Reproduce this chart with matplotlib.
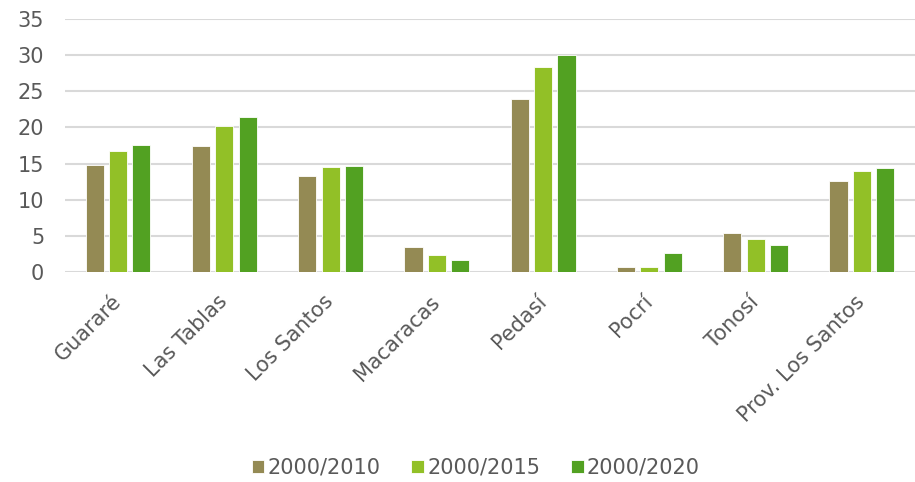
import numpy as np
import matplotlib.pyplot as plt
import matplotlib.transforms as mtransforms

# Datos
distritos = ['Guararé', 'Las Tablas', 'Los Santos', 'Macaracas', 'Pedasí',
             'Pocrí', 'Tonosí', 'Prov. Los Santos']
series = ['2000/2010', '2000/2015', '2000/2020']
v2010 = [14.8, 17.4, 13.3, 3.5, 24.0, 0.65, 5.35, 12.6]
v2015 = [16.7, 20.2, 14.5, 2.3, 28.4, 0.7, 4.5, 14.0]
v2020 = [17.5, 21.5, 14.7, 1.6, 30.0, 2.6, 3.7, 14.4]
colores = ['#948A54', '#92C027', '#52A122']

texto = '#595959'

fig = plt.figure(figsize=(9.15, 4.82), dpi=100)
ax = fig.add_axes([0.071, 0.4357, 0.929, 0.5249])

x = np.arange(len(distritos))
ancho = 0.17
paso = 0.22
for i, (vals, nombre) in enumerate(zip([v2010, v2015, v2020], series)):
    ax.bar(x + (i - 1) * paso, vals, ancho, color=colores[i], label=nombre,
           edgecolor='white', linewidth=0.6, zorder=3)

ax.set_ylim(0, 35)
ax.set_xlim(-0.5, len(distritos) - 0.5)
ax.set_yticks(range(0, 36, 5))
ax.yaxis.grid(True, color='#D9D9D9', linewidth=1.5, zorder=0)
for s in ax.spines.values():
    s.set_visible(False)
ax.tick_params(axis='both', length=0, colors=texto, labelsize=15)
ax.tick_params(axis='y', pad=15)
ax.tick_params(axis='x', pad=14)
ax.set_xticks(x)
ax.set_xticklabels(distritos, rotation=45, ha='right', rotation_mode='anchor')
desplaza = mtransforms.ScaledTranslation(-7 / 100, 0, fig.dpi_scale_trans)
for lbl in ax.get_xticklabels():
    lbl.set_transform(lbl.get_transform() + desplaza)

leg = fig.legend(loc='lower center', ncol=3, bbox_to_anchor=(0.52, -0.03),
                 frameon=False, fontsize=15, handlelength=0.6, handleheight=0.6,
                 handletextpad=0.15, columnspacing=1.5)
for t in leg.get_texts():
    t.set_color(texto)

fig.savefig('out.png', dpi=100)
